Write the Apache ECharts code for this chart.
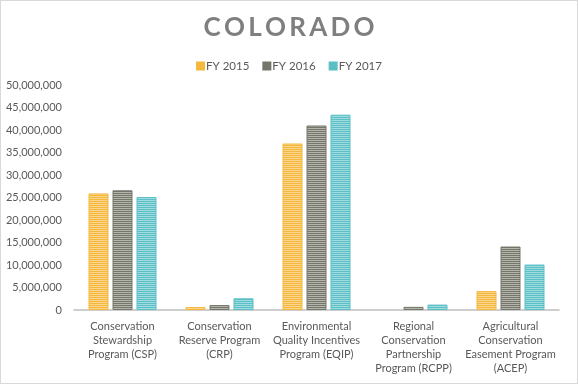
<!DOCTYPE html>
<html>
<head>
<meta charset="utf-8">
<script src="https://cdn.jsdelivr.net/npm/echarts@6/dist/echarts.min.js"></script>
<style>
html,body{margin:0;padding:0;background:#fff;}
#c{width:578px;height:384px;box-sizing:border-box;border:1px solid #d9d9d9;}
</style>
</head>
<body>
<div id="c"></div>
<script>
var categories = [
  "Conservation\nStewardship\nProgram (CSP)",
  "Conservation\nReserve Program\n(CRP)",
  "Environmental\nQuality Incentives\nProgram (EQIP)",
  "Regional\nConservation\nPartnership\nProgram (RCPP)",
  "Agricultural\nConservation\nEasement Program\n(ACEP)"
];
var seriesNames = ["FY 2015", "FY 2016", "FY 2017"];
var fy2015 = [25900000, 650000, 37000000, null, 4200000];
var fy2016 = [26600000, 1100000, 41000000, 700000, 14100000];
var fy2017 = [25100000, 2600000, 43400000, 1200000, 10100000];
var yTicks = { min: 0, max: 50000000, interval: 5000000 };

var baseColors = ["#F4B83F", "#75766B", "#5BBFC5"];
var lightColors = ["#FAD58C", "#B5B5AB", "#9FDCDF"];

function stripe(dark, light) {
  var c = document.createElement('canvas');
  c.width = 4; c.height = 2;
  var ctx = c.getContext('2d');
  ctx.fillStyle = light; ctx.fillRect(0, 0, 4, 2);
  ctx.fillStyle = dark; ctx.fillRect(0, 0, 4, 1);
  return c;
}

var chart = echarts.init(document.getElementById('c'), null, {renderer: 'canvas'});
var font = "Lato, 'Open Sans', sans-serif";
var dataSets = [fy2015, fy2016, fy2017];
var series = dataSets.map(function (d, i) {
  return {
    name: seriesNames[i],
    type: 'bar',
    data: d,
    barWidth: 20,
    barGap: '20%',
    itemStyle: {
      color: { image: stripe(baseColors[i], lightColors[i]), repeat: 'repeat' },
      borderColor: baseColors[i],
      borderWidth: 1
    }
  };
});

var titleText = 'COLORADO'.split('').join('\u200A\u200A');

chart.setOption({
  animation: false,
  title: {
    text: titleText,
    left: 'center',
    top: 9,
    textStyle: { fontFamily: font, fontSize: 26, fontWeight: 'bold', color: '#7F7F7F' }
  },
  legend: {
    data: seriesNames.map(function (n, i) { return { name: n, itemStyle: { color: baseColors[i] } }; }),
    top: 54,
    left: 'center',
    itemWidth: 7,
    itemHeight: 7,
    itemGap: 13,
    icon: 'rect',
    textStyle: { fontFamily: font, fontSize: 11.5, color: '#595959', padding: [0, 0, 0, -3] }
  },
  grid: { left: 73, right: 18, top: 84, bottom: 73, containLabel: false },
  xAxis: {
    type: 'category',
    data: categories,
    axisLine: { lineStyle: { color: '#BFBFBF', width: 1.5 } },
    axisTick: { show: false },
    axisLabel: { interval: 0, fontFamily: font, fontSize: 11, color: '#595959', lineHeight: 14, margin: 9 }
  },
  yAxis: {
    type: 'value',
    min: yTicks.min, max: yTicks.max, interval: yTicks.interval,
    splitLine: { show: false },
    axisLine: { show: false },
    axisTick: { show: false },
    axisLabel: {
      fontFamily: font, fontSize: 11, color: '#595959', margin: 12,
      formatter: function (v) { return v.toLocaleString('en-US'); }
    }
  },
  series: series
});
</script>
</body>
</html>
